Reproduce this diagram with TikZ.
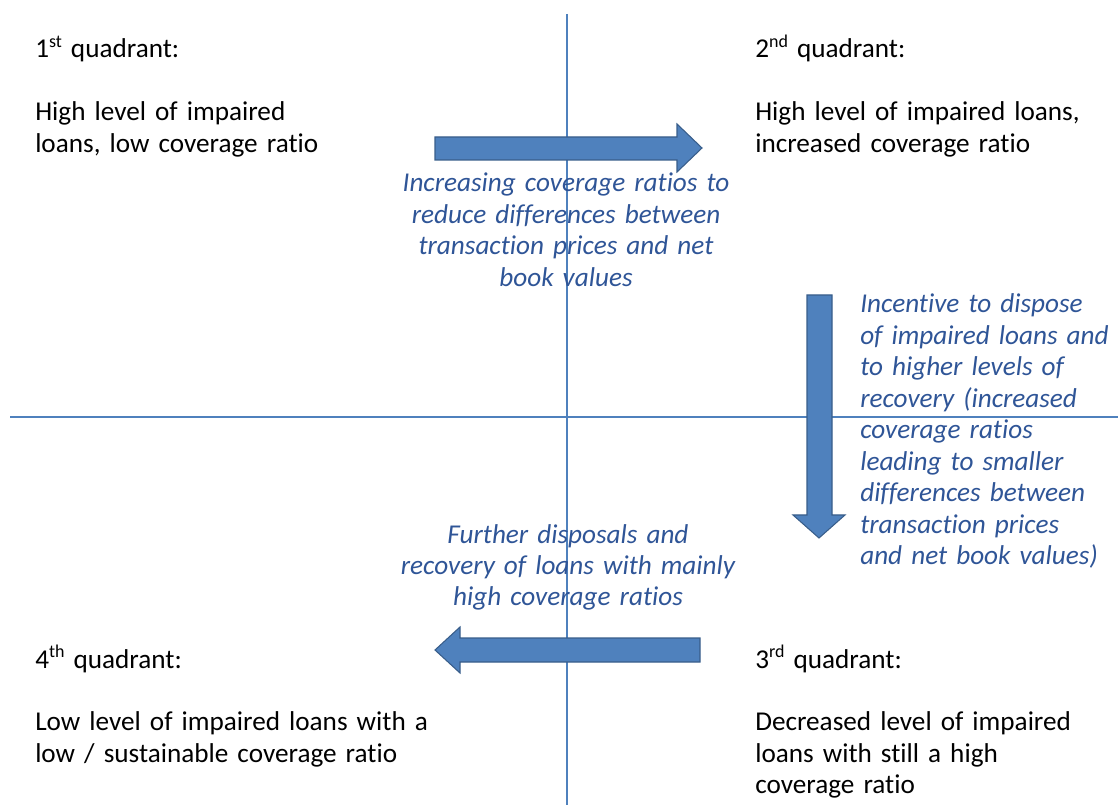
\documentclass[tikz,border=0pt]{standalone}
\usepackage{fontspec}
\setmainfont{Carlito}[Ligatures={NoCommon}]
\usetikzlibrary{positioning}

\definecolor{axisblue}{RGB}{79,129,189}
\definecolor{arrowfill}{RGB}{79,129,189}
\definecolor{arrowedge}{RGB}{56,93,138}
\definecolor{noteblue}{RGB}{47,85,151}

\newcommand{\ordsup}[1]{\raisebox{0.4em}{\fontsize{13.5}{13.5}\selectfont #1}}

\tikzset{
	quad/.style={anchor=base west, inner sep=0pt, text width=340pt, align=left,
		font=\fontsize{20.4}{23.6}\selectfont},
	note/.style={inner sep=0pt, text=noteblue,
		font=\fontsize{20.4}{23.6}\selectfont\itshape},
	bigarrow/.style={fill=arrowfill, draw=arrowedge, line width=0.8pt, line join=miter}
}

\begin{document}
\begin{tikzpicture}[x=0.75pt, y=-0.75pt]
			\useasboundingbox (0,0) rectangle (1118,805);
			% axes
			\draw [axisblue, line width=1.1pt] (567,14) -- (567,805);
			\draw [axisblue, line width=1.1pt] (10,417) -- (1118,417);
			% block arrows
			\draw [bigarrow] (435,137) -- (677,137) -- (677,124) -- (702,148) -- (677,172) -- (677,160) -- (435,160) -- cycle;
			\draw [bigarrow] (807,295) -- (832,295) -- (832,515) -- (845,515) -- (819,538) -- (793,515) -- (807,515) -- cycle;
			\draw [bigarrow] (700,638) -- (460,638) -- (460,627) -- (435,650) -- (460,673) -- (460,662) -- (700,662) -- cycle;
			% quadrants
			\node [quad] (first) at (35,58) {1\ordsup{st} quadrant:\\[23.6pt]High level of impaired\\loans, low coverage ratio};
			\node [quad] (second) at (755,58) {2\ordsup{nd} quadrant:\\[23.6pt]High level of impaired loans,\\increased coverage ratio};
			\node [quad] (fourth) at (35,668) {4\ordsup{th} quadrant:\\[23.6pt]Low level of impaired loans with a\\low / sustainable coverage ratio};
			\node [quad] (third) at (755,668) {3\ordsup{rd} quadrant:\\[23.6pt]Decreased level of impaired\\loans with still a high\\coverage ratio};
			% transitions
			\node [note, anchor=base, text width=280pt, align=center] (toSecond) at (566,192) {Increasing coverage ratios to\\reduce differences between\\transaction prices and net\\book values};
			\node [note, anchor=base west, text width=200pt, align=left] (toThird) at (860,313) {Incentive to dispose\\of impaired loans and\\to higher levels of\\recovery (increased\\coverage ratios\\leading to smaller\\differences between\\transaction prices\\and net book values)};
			\node [note, anchor=base, text width=280pt, align=center] (toFourth) at (568,543) {Further disposals and\\recovery of loans with mainly\\high coverage ratios};
		\end{tikzpicture}
\end{document}
